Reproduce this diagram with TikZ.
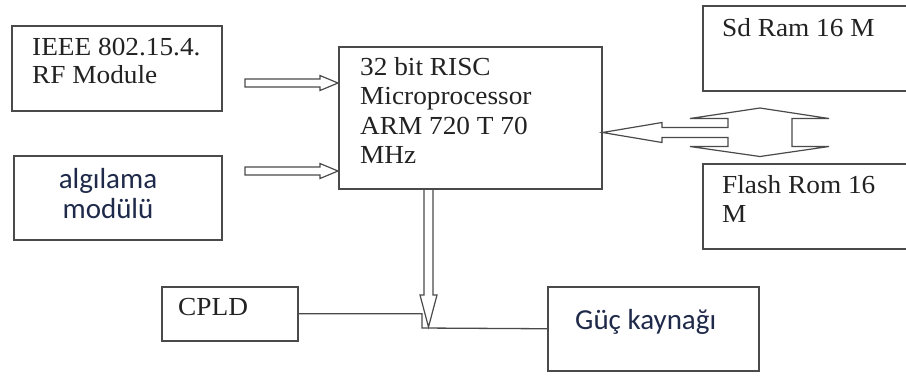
\documentclass[tikz,border=0pt]{standalone}
\usepackage{fontspec}
\setmainfont{Liberation Serif}[FakeStretch=1.05]
\newfontfamily\calib{Carlito}
\usetikzlibrary{calc}
\definecolor{ln}{HTML}{4A4A4A}
\definecolor{tx}{HTML}{222222}
\definecolor{bl}{HTML}{1F2A4A}
\newcommand{\serifsz}{\fontsize{26}{29.5}\selectfont}
\newcommand{\sanssz}{\calib\fontsize{29}{30}\selectfont}
\newcommand{\linesL}[1]{\begin{tabular}[t]{@{}l@{}}#1\end{tabular}}
\newcommand{\linesC}[1]{\begin{tabular}[t]{@{}c@{}}#1\end{tabular}}
\newcommand{\harrow}[2]{%
  \draw[hollow] ($(#1)+(0,-4)$) -- ($(#2)+(-18,-4)$) -- ($(#2)+(-18,-7.5)$) -- (#2)
    -- ($(#2)+(-18,7.5)$) -- ($(#2)+(-18,4)$) -- ($(#1)+(0,4)$) -- cycle;}
\begin{document}
\begin{tikzpicture}[x=1pt,y=-1pt,
  box/.style={draw=ln, line width=1.5pt, inner sep=0pt, anchor=north west},
  lbl/.style={anchor=base west, inner sep=0pt, text=tx, font=\serifsz},
  lblc/.style={anchor=base, inner sep=0pt, text=bl, font=\sanssz},
  lbls/.style={anchor=base west, inner sep=0pt, text=bl, font=\sanssz},
  hollow/.style={draw=ln, line width=1.2pt, line join=miter},
  conn/.style={draw=ln, line width=1.3pt}]
\useasboundingbox (0,0) rectangle (906,376);
\clip (0,0) rectangle (906,376);
\fill[white] (0,0) rectangle (906,376);

% boxes
\node[box, minimum width=210pt, minimum height=85pt] (ieee) at (11,25) {};
\node[box, minimum width=208pt, minimum height=84pt] (alg) at (13,155) {};
\node[box, minimum width=263pt, minimum height=142pt] (micro) at (338,46) {};
\node[box, minimum width=220pt, minimum height=85pt] (sdram) at (702,5) {};
\node[box, minimum width=220pt, minimum height=85pt] (flash) at (702,163) {};
\node[box, minimum width=136pt, minimum height=54pt] (cpld) at (161,286) {};
\node[box, minimum width=211pt, minimum height=84pt] (guc) at (547,286) {};

% texts
\node[lbl] (ieeeT) at (32,55) {\linesL{IEEE 802.15.4.\\[-1.5pt] RF Module}};
\node[lblc] (algT) at (108,188) {\linesC{algılama\\ modülü}};
\node[lbl] (microT) at (360,75) {\linesL{32 bit RISC\\ Microprocessor\\ ARM 720 T 70\\ MHz}};
\node[lbl] (sdramT) at (722,36) {Sd Ram 16 M};
\node[lbl] (flashT) at (722,193) {\linesL{Flash Rom 16\\ M}};
\node[lbl] (cpldT) at (178,315) {CPLD};
\node[lbls] (gucT) at (575,329) {Güç kaynağı};

% input arrows
\coordinate (a1s) at (245,83);
\coordinate (a1e) at (micro.west |- a1s);
\harrow{a1s}{a1e}
\coordinate (a2s) at (245,171);
\coordinate (a2e) at (micro.west |- a2s);
\harrow{a2s}{a2e}

% downward arrow
\coordinate (vt) at (428.5,327);
\coordinate (vs) at (vt |- micro.south);
\draw[hollow] ($(vs)+(-4.5,0)$) -- ($(vt)+(-4.5,-32)$) -- ($(vt)+(-8.5,-32)$) -- (vt)
  -- ($(vt)+(8.5,-32)$) -- ($(vt)+(4.5,-32)$) -- ($(vs)+(4.5,0)$);

% CPLD / power connector
\coordinate (j) at (422,328);
\draw[conn] (cpld.east) -| (j) -- (guc.west);

% memory bus arrow
\coordinate (c) at (760,132.5);
\coordinate (t) at (micro.east |- c);
\draw[hollow] (t) -- ($(c)+(-98,-10)$) -- ($(c)+(-98,-5)$) -- ($(c)+(-32,-5)$)
  -- ($(c)+(-32,-14)$) -- ($(c)+(-70,-14)$) -- ($(c)+(0,-24.5)$) -- ($(c)+(69,-14)$)
  -- ($(c)+(32,-14)$) -- ($(c)+(32,14)$) -- ($(c)+(69,14)$) -- ($(c)+(0,24)$)
  -- ($(c)+(-70,14)$) -- ($(c)+(-32,14)$) -- ($(c)+(-32,5)$) -- ($(c)+(-98,5)$)
  -- ($(c)+(-98,10)$) -- cycle;
\end{tikzpicture}
\end{document}
